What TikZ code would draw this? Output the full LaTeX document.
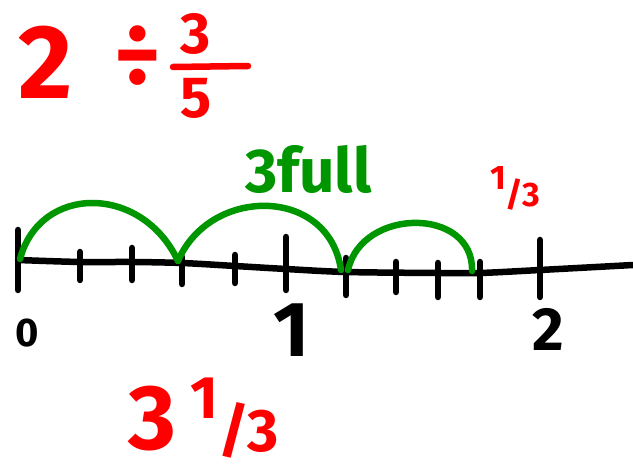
\documentclass[tikz,border=0pt]{standalone}
\usepackage{fontspec}
\setmainfont{Fira Sans}
\usetikzlibrary{positioning}
\definecolor{penred}{RGB}{255,0,0}
\definecolor{pengreen}{RGB}{0,150,0}
\newcommand\penfont[1]{\fontsize{#1}{#1}\selectfont\bfseries}

\begin{document}
\begin{tikzpicture}[
  x=1pt, y=-1pt,
  ink/.style={line width=6.5pt, line cap=round, line join=round},
  tick/.style={ink, black},
  hop/.style={ink, pengreen},
  hand/.style={inner sep=0pt},
  redhand/.style={hand, text=penred},
  greenhand/.style={hand, text=pengreen}
]
  \useasboundingbox (0,0) rectangle (633,473);

  %% Problem: 2 divided by 3/5
  \node[redhand, font=\penfont{105}] (whole) at (46,62) {2};
  \node[redhand, font=\penfont{90}] (divsign) at (138,56) {÷};
  \node[redhand, font=\penfont{58}] (num) at (196,34) {3};
  \node[redhand, font=\penfont{58}] (den) at (196,98) {5};
  \draw[ink, penred] (173,67) -- (248,66);

  %% Number line
  \draw[ink] plot[smooth] coordinates {(18,260) (80,262) (132,262) (182,263)
    (235,266) (286,269) (346,272) (438,273) (480,273) (540,270) (633,265)};

  %% Ticks: fifths
  \foreach \n/\x/\y/\t/\b in {0/18/260/230/290, 1/80/262/252/280,
      2/132/262/248/280, 3/182/263/257/284, 4/235/266/255/283,
      5/286/269/237/290, 6/346/272/258/295, 7/396/273/262/292,
      8/438/273/263/297, 9/480/273/262/297, 10/540/270/240/297}{
    \coordinate (t\n) at (\x,\y);
    \draw[tick] (\x,\t) -- (\x,\b);
  }

  %% Whole number labels
  \node[hand, font=\penfont{40}] (zero) at (27,333) {0};
  \node[hand, font=\penfont{78}] (one) at (292,330) {1};
  \node[hand, font=\penfont{61}] (two) at (548,329) {2};

  %% Hops of 3/5
  \coordinate (h0) at (20,259);
  \coordinate (h1) at (178,261);
  \coordinate (h2) at (341,270);
  \coordinate (h3) at (348,270);
  \coordinate (h4) at (472,271);
  \draw[hop] (h0) .. controls (40,184) and (142,184) .. (h1);
  \draw[hop] (h1) .. controls (210,186) and (329,186) .. (h2);
  \draw[hop] (h3) .. controls (362,207) and (474,207) .. (h4);

  \node[greenhand, font=\penfont{62}, anchor=base west] (full) at (245,193) {3full};
  \node[redhand, font=\penfont{34}, anchor=base west] (part)
    at (490,207) {\raisebox{.5em}{1}/3};

  %% Answer
  \node[redhand, font=\penfont{92}, anchor=base west] (ans) at (128,450) {3};
  \node[redhand, font=\penfont{60}, anchor=base west] (ansfrac)
    at (190,452) {\raisebox{.55em}{1}/3};
\end{tikzpicture}
\end{document}
